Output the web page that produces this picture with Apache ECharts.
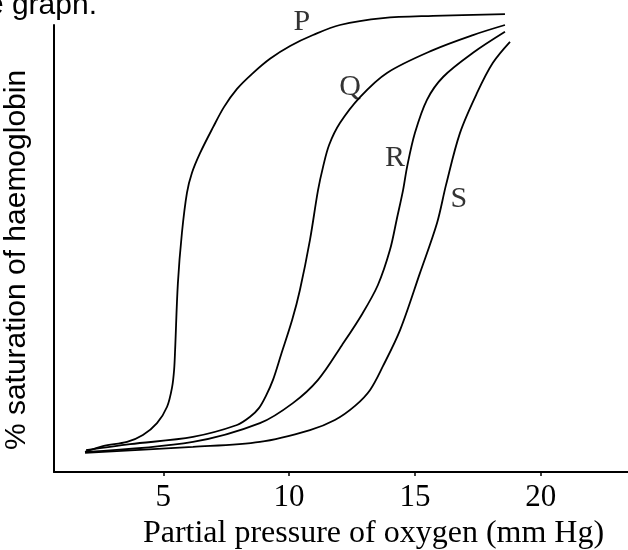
<!DOCTYPE html>
<html>
<head>
<meta charset="utf-8">
<script src="https://cdn.jsdelivr.net/npm/echarts@6/dist/echarts.min.js"></script>
<style>
  html, body { margin: 0; padding: 0; background: #fff; }
  #chart { width: 628px; height: 550px; }
</style>
</head>
<body>
<div id="chart"></div>
<script>
// Tick labels on the x axis (mm Hg)
const xTickValues = [5, 10, 15, 20];

// Curve names
const curveNames = ['P', 'Q', 'R', 'S'];

// Curve P
const pX = [1.89, 2.60, 3.56, 4.19, 4.75, 5.15, 5.35, 5.43, 5.47, 5.58, 5.74, 5.94, 6.14, 6.46, 6.98, 7.41, 7.93, 8.53, 9.24, 10.04, 10.95, 12.02, 13.73, 15.72, 18.58];
const pY = [4.4, 5.7, 6.6, 8.1, 10.7, 14.3, 18.6, 22.4, 26.8, 41.4, 52.4, 61.2, 65.6, 69.9, 75.6, 80.0, 84.0, 87.3, 90.6, 93.4, 95.8, 98.0, 99.5, 100.0, 100.4];

// Curve Q
const qX = [1.93, 3.68, 6.18, 7.93, 8.45, 8.80, 9.08, 9.36, 9.68, 10.12, 10.43, 10.83, 11.15, 11.35, 11.59, 12.02, 12.82, 13.89, 15.72, 17.31, 18.58];
const qY = [4.8, 6.1, 7.7, 10.3, 12.1, 14.0, 16.7, 20.2, 25.7, 33.3, 39.9, 50.9, 61.8, 66.9, 71.7, 76.5, 82.2, 87.5, 92.5, 95.8, 98.0];

// Curve R
const rX = [1.93, 6.18, 8.84, 10.15, 11.15, 12.10, 12.90, 13.53, 14.01, 14.29, 14.53, 14.69, 15.00, 15.48, 16.12, 17.31, 18.58];
const rY = [4.4, 6.6, 10.7, 15.1, 20.2, 27.8, 34.6, 41.0, 48.7, 55.7, 61.8, 66.9, 74.3, 81.6, 86.6, 91.9, 96.5];

// Curve S
const sX = [1.89, 6.18, 8.84, 10.83, 11.82, 12.62, 13.22, 13.73, 14.41, 15.20, 15.88, 16.24, 16.79, 17.47, 18.10, 18.78];
const sY = [4.2, 5.5, 6.6, 9.2, 11.4, 14.5, 18.0, 23.2, 31.1, 43.6, 54.6, 63.0, 74.3, 83.1, 89.7, 94.3];

// Curve label anchors (data coordinates)
const labelX = [10.51, 12.42, 14.21, 16.75];
const labelY = [98.6, 84.4, 68.8, 59.9];

const xs = [pX, qX, rX, sX];
const ys = [pY, qY, rY, sY];

const zip = (a, b) => a.map((v, i) => [v, b[i]]);

const lineSeries = curveNames.map((name, k) => ({
  name: name,
  type: 'line',
  data: zip(xs[k], ys[k]),
  showSymbol: false,
  smooth: 0.33,
  clip: false,
  lineStyle: { color: '#000', width: 1.8 },
  emphasis: { disabled: true },
  silent: true
}));

const labelSeries = {
  type: 'scatter',
  data: curveNames.map((n, i) => [labelX[i], labelY[i], n]),
  symbolSize: 0,
  clip: false,
  silent: true,
  label: {
    show: true,
    position: 'inside',
    formatter: p => p.value[2],
    fontFamily: 'Liberation Serif',
    fontSize: 30,
    color: '#000'
  }
};

const chart = echarts.init(document.getElementById('chart'), null, { renderer: 'canvas' });
chart.setOption({
  animation: false,
  backgroundColor: '#fff',
  grid: { left: 54, right: 0, top: 25, bottom: 78, outerBoundsMode: 'none' },
  xAxis: {
    type: 'value',
    min: 0.656,
    max: 23.47,
    name: 'Partial pressure of oxygen (mm Hg)',
    nameLocation: 'middle',
    nameGap: 43,
    nameTextStyle: { fontFamily: 'Liberation Serif', fontSize: 32, color: '#000', padding: [0, 0, 0, 65] },
    axisLine: { show: true, lineStyle: { color: '#000', width: 2 } },
    axisTick: { show: true, length: 4, lineStyle: { color: '#000', width: 1.5 }, customValues: xTickValues },
    axisLabel: { show: true, margin: 10, fontFamily: 'Liberation Serif', fontSize: 31, color: '#000', customValues: xTickValues },
    splitLine: { show: false }
  },
  yAxis: {
    type: 'value',
    min: 0,
    max: 98,
    name: '% saturation of haemoglobin',
    nameLocation: 'middle',
    nameGap: 22,
    nameTextStyle: { fontFamily: 'Liberation Sans', fontSize: 30, color: '#000', padding: [0, 23, 0, 0] },
    axisLine: { show: true, lineStyle: { color: '#000', width: 2 } },
    axisTick: { show: false },
    axisLabel: { show: false },
    splitLine: { show: false }
  },
  graphic: [{
    type: 'text',
    silent: true,
    style: {
      text: 'e graph.',
      x: 97,
      y: 6,
      align: 'right',
      verticalAlign: 'middle',
      fontFamily: 'Liberation Sans',
      fontSize: 30,
      fill: '#000'
    }
  }],
  series: lineSeries.concat([labelSeries])
});
</script>
</body>
</html>
